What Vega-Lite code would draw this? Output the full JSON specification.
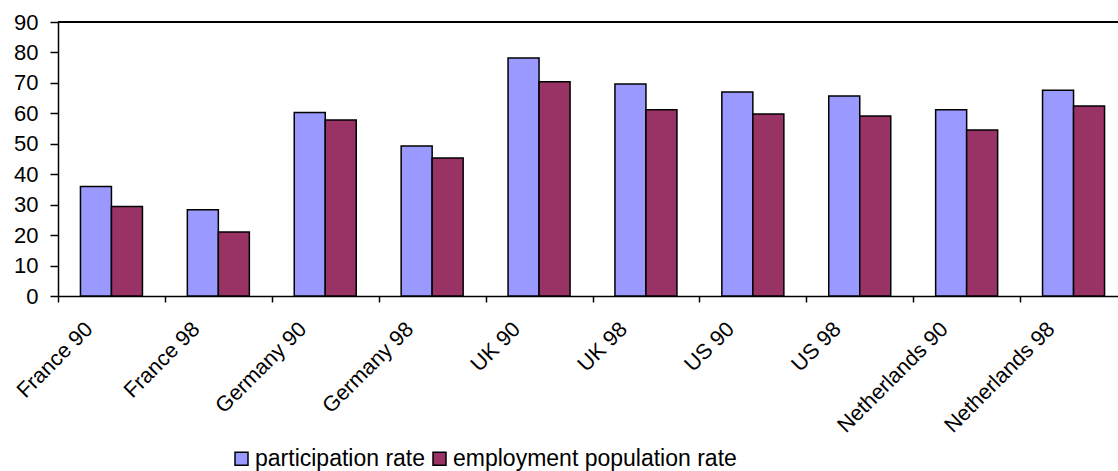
{
  "$schema": "https://vega.github.io/schema/vega-lite/v6.json",
  "width": 1060,
  "height": 274,
  "autosize": {"type": "none"},
  "padding": {"left": 58, "top": 22, "right": 0, "bottom": 175},
  "background": "white",
  "config": {
    "view": {"stroke": null},
    "font": "Liberation Sans",
    "axis": {"labelColor": "black", "labelFont": "Liberation Sans", "domainColor": "black", "tickColor": "black", "domainWidth": 1.5, "tickWidth": 1.5, "grid": false, "title": null}
  },
  "data": {
    "values": [
      {"label": "France 90", "series": "participation rate", "value": 36.0},
      {"label": "France 90", "series": "employment population rate", "value": 29.4},
      {"label": "France 98", "series": "participation rate", "value": 28.3},
      {"label": "France 98", "series": "employment population rate", "value": 21.0},
      {"label": "Germany 90", "series": "participation rate", "value": 60.3},
      {"label": "Germany 90", "series": "employment population rate", "value": 57.8},
      {"label": "Germany 98", "series": "participation rate", "value": 49.3},
      {"label": "Germany 98", "series": "employment population rate", "value": 45.3},
      {"label": "UK 90", "series": "participation rate", "value": 78.2},
      {"label": "UK 90", "series": "employment population rate", "value": 70.4},
      {"label": "UK 98", "series": "participation rate", "value": 69.6},
      {"label": "UK 98", "series": "employment population rate", "value": 61.2},
      {"label": "US 90", "series": "participation rate", "value": 67.0},
      {"label": "US 90", "series": "employment population rate", "value": 59.8},
      {"label": "US 98", "series": "participation rate", "value": 65.7},
      {"label": "US 98", "series": "employment population rate", "value": 59.1},
      {"label": "Netherlands 90", "series": "participation rate", "value": 61.2},
      {"label": "Netherlands 90", "series": "employment population rate", "value": 54.5},
      {"label": "Netherlands 98", "series": "participation rate", "value": 67.6},
      {"label": "Netherlands 98", "series": "employment population rate", "value": 62.4}
    ]
  },
  "layer": [
    {
      "mark": {"type": "bar", "stroke": "black", "strokeWidth": 1.5},
      "encoding": {
        "x": {
          "field": "label", "type": "nominal", "sort": null,
          "scale": {"paddingInner": 0, "paddingOuter": 0, "range": [0, 1069]},
          "axis": {"labelAngle": -45, "labelAlign": "right", "labelBaseline": "top", "labelFontSize": 21.5, "labelOffset": -30, "labelPadding": 16, "tickSize": 6, "tickBand": "extent", "labelOverlap": false}
        },
        "xOffset": {
          "field": "series", "type": "nominal",
          "sort": ["participation rate", "employment population rate"],
          "scale": {"paddingInner": 0, "paddingOuter": 0.724}
        },
        "y": {
          "field": "value", "type": "quantitative",
          "scale": {"domain": [0, 90], "nice": false},
          "axis": {"values": [0, 10, 20, 30, 40, 50, 60, 70, 80, 90], "labelFontSize": 22, "tickSize": 8, "labelPadding": 12, "labelOverlap": false}
        },
        "color": {
          "field": "series", "type": "nominal",
          "sort": ["participation rate", "employment population rate"],
          "scale": {"domain": ["participation rate", "employment population rate"], "range": ["#9999FF", "#993366"]},
          "legend": {
            "title": null, "orient": "none", "direction": "horizontal",
            "legendX": 172, "legendY": 425, "padding": 0,
            "symbolType": "square", "symbolSize": 169, "symbolStrokeColor": "black", "symbolStrokeWidth": 1.5, "symbolOpacity": 1,
            "labelFontSize": 23, "labelColor": "black", "labelFont": "Liberation Sans", "labelOffset": 2, "columnPadding": 2, "labelLimit": 400
          }
        }
      }
    },
    {
      "mark": {"type": "rule", "color": "black", "strokeWidth": 1.5},
      "encoding": {"y": {"datum": 90, "type": "quantitative", "axis": {"values": [0, 10, 20, 30, 40, 50, 60, 70, 80, 90], "labelFontSize": 22, "tickSize": 8, "labelPadding": 12, "labelOverlap": false}}}
    }
  ]
}
